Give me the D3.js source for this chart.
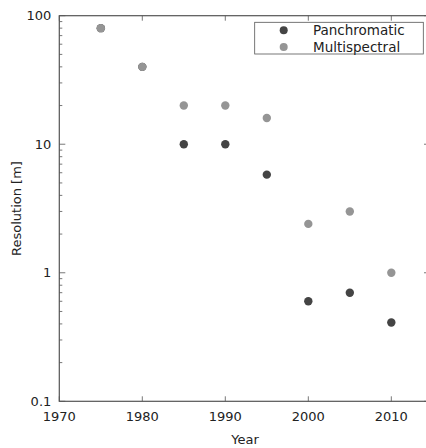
<!DOCTYPE html>
<html>
<head>
<meta charset="utf-8">
<script src="https://cdn.jsdelivr.net/npm/d3@7"></script>
<style>
  body { margin: 0; background: white; }
  svg { display: block; }
  svg text { font-family: 'DejaVu Sans', 'Liberation Sans', sans-serif; fill: #222; }
</style>
</head>
<body>
<svg id="chart"></svg>
<script>
var years = [1975, 1980, 1985, 1990, 1995, 2000, 2005, 2010];
var panchromatic = [80, 40, 10, 10, 5.8, 0.6, 0.7, 0.41];
var multispectral = [80, 40, 20, 20, 16, 2.4, 3, 1];
var xTicks = [1970, 1980, 1990, 2000, 2010];
var yTicks = [0.1, 1, 10, 100];
var seriesNames = ['Panchromatic', 'Multispectral'];
var seriesColors = ['#444444', '#959595'];

var width = 426,
    height = 448,
    plotLeft = 59.3,
    plotRight = 430,
    plotTop = 15.7,
    plotBottom = 401.3;

var svg = d3.select('svg#chart')
    .attr('width', width)
    .attr('height', height);

// 2010 sits at x = 390.7, the right spine falls just outside the window
var x = d3.scaleLinear().domain([1970, 2014.66]).range([plotLeft, plotRight]);
var y = d3.scaleLog().domain([0.1, 100]).range([plotBottom, plotTop]);

var minorTicks = [];
[0.1, 1, 10].forEach(function (d) {
    for (var k = 2; k <= 9; k++) minorTicks.push(d * k);
});

var axisColor = '#555';

// frame
svg.append('rect')
    .attr('x', plotLeft).attr('y', plotTop)
    .attr('width', plotRight - plotLeft).attr('height', plotBottom - plotTop)
    .attr('fill', 'none')
    .attr('stroke', axisColor)
    .attr('stroke-width', 1.2);

function tick(x1, y1, x2, y2) {
    svg.append('line')
        .attr('x1', x1).attr('y1', y1)
        .attr('x2', x2).attr('y2', y2)
        .attr('stroke', axisColor)
        .attr('stroke-width', 0.8);
}

// x ticks, bottom and top, pointing in
xTicks.forEach(function (t) {
    var px = x(t);
    tick(px, plotBottom, px, plotBottom - 5);
    tick(px, plotTop, px, plotTop + 5);
    svg.append('text')
        .attr('x', px).attr('y', plotBottom + 20)
        .attr('text-anchor', 'middle')
        .attr('font-size', 13)
        .text(t);
});

// y ticks, left and right, pointing in
yTicks.forEach(function (t) {
    var py = y(t);
    tick(plotLeft, py, plotLeft + 6, py);
    tick(plotRight, py, plotRight - 6, py);
    svg.append('text')
        .attr('x', plotLeft - 8).attr('y', py + 4.5)
        .attr('text-anchor', 'end')
        .attr('font-size', 13)
        .text(d3.format('~g')(t));
});
minorTicks.forEach(function (t) {
    var py = y(t);
    tick(plotLeft, py, plotLeft + 3, py);
    tick(plotRight, py, plotRight - 3, py);
});

// axis labels
svg.append('text')
    .attr('x', 245).attr('y', 444)
    .attr('text-anchor', 'middle')
    .attr('font-size', 13)
    .text('Year');
svg.append('text')
    .attr('transform', 'translate(21,' + ((plotTop + plotBottom) / 2) + ') rotate(-90)')
    .attr('text-anchor', 'middle')
    .attr('font-size', 13)
    .text('Resolution [m]');

// points
[panchromatic, multispectral].forEach(function (vals, i) {
    svg.append('g').selectAll('circle')
        .data(vals)
        .enter().append('circle')
        .attr('cx', function (d, j) { return x(years[j]); })
        .attr('cy', function (d) { return y(d); })
        .attr('r', 4.2)
        .attr('fill', seriesColors[i]);
});

// legend
var legend = svg.append('g');
legend.append('rect')
    .attr('x', 254.7).attr('y', 22.3)
    .attr('width', 168.6).attr('height', 31.7)
    .attr('fill', 'white')
    .attr('stroke', axisColor)
    .attr('stroke-width', 0.8);
seriesNames.forEach(function (name, i) {
    var ly = 30.3 + i * 16.7;
    legend.append('circle')
        .attr('cx', 283.7).attr('cy', ly)
        .attr('r', 4)
        .attr('fill', seriesColors[i]);
    legend.append('text')
        .attr('x', 313).attr('y', ly + 4.8)
        .attr('font-size', 13.5)
        .text(name);
});
</script>
</body>
</html>
